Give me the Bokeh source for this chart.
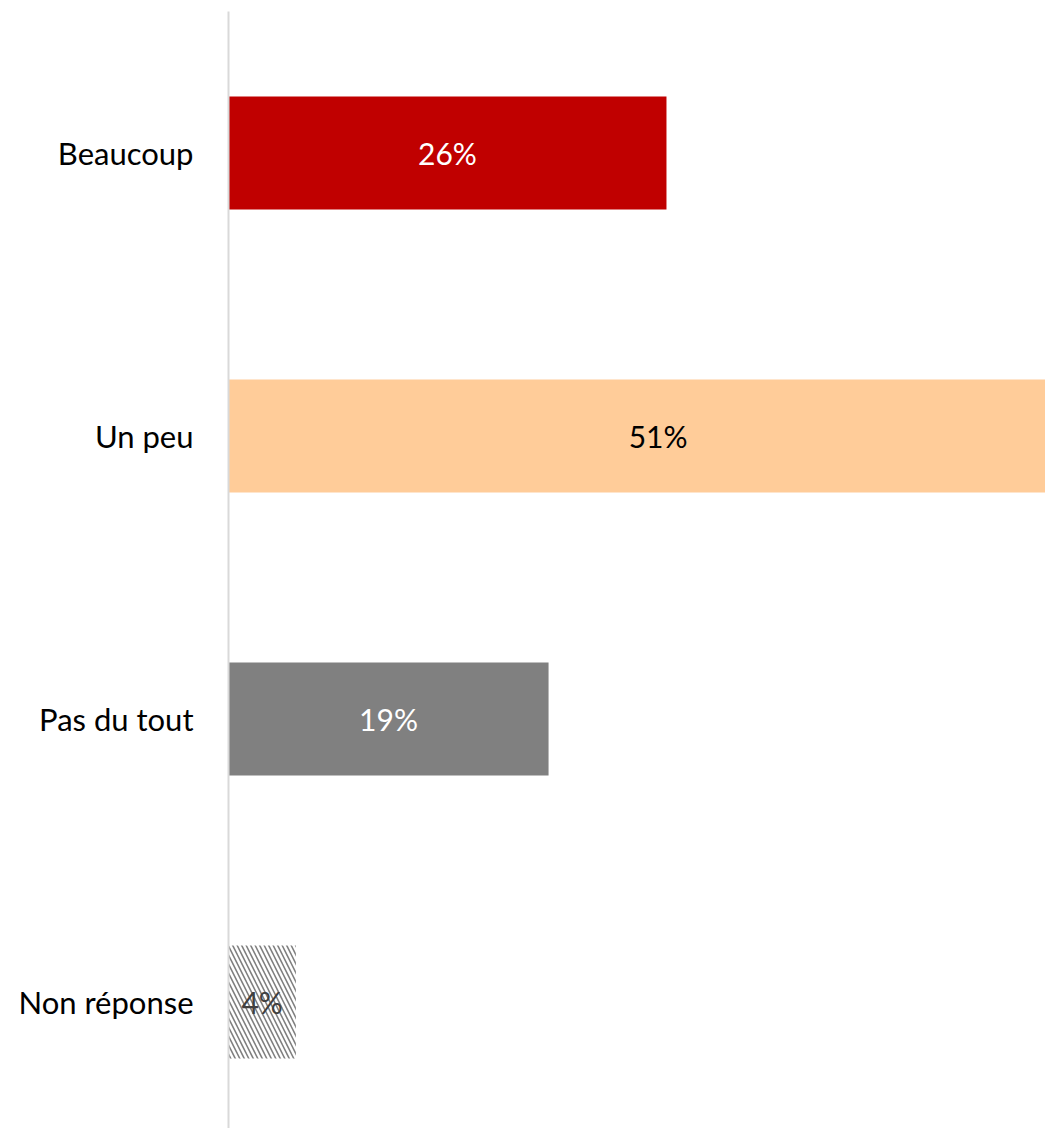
from bokeh.plotting import figure
from bokeh.models import ColumnDataSource, Range1d, FixedTicker
from bokeh.core.properties import value
from bokeh.embed import file_html
from bokeh.resources import INLINE

categories = ["Beaucoup", "Un peu", "Pas du tout", "Non réponse"]
values = [26, 51, 19, 4]
labels = ["26%", "51%", "19%", "4%"]
colors = ["#C00000", "#FFCC99", "#808080", "#FFFFFF"]
label_colors = ["#FFFFFF", "#000000", "#FFFFFF", "#404040"]

idx = list(range(len(categories)))
src = ColumnDataSource(dict(y=idx, v=values, xm=[v / 2 for v in values],
                            lab=labels, col=colors, lcol=label_colors))

p = figure(width=1045, height=1128, output_backend="svg", toolbar_location=None,
           x_range=Range1d(0, 48.5), y_range=Range1d(3.447, -0.5),
           min_border_left=228, min_border_right=0, min_border_top=11, min_border_bottom=0)
p.outline_line_color = None
p.xgrid.visible = False
p.ygrid.visible = False
p.xaxis.visible = False

main = [0, 1, 2]
p.hbar(y=[idx[i] for i in main], right=[values[i] for i in main], left=0, height=0.4,
       fill_color=[colors[i] for i in main], line_color=None)
nr = 3
p.hbar(y=[idx[nr]], right=[values[nr]], left=0, height=0.4, fill_color="#FFFFFF",
       line_color=None, hatch_pattern="\\", hatch_color="#808080", hatch_scale=9,
       hatch_weight=1.6)

p.text(x="xm", y="y", text="lab", text_color="lcol", source=src,
       text_align="center", text_baseline="middle", text_font=value("Lato"),
       text_font_size="30px")

p.yaxis.ticker = FixedTicker(ticks=idx)
p.yaxis.major_label_overrides = {i: c for i, c in zip(idx, categories)}
p.yaxis.major_label_text_font = "Lato"
p.yaxis.major_label_text_font_size = "31px"
p.yaxis.major_label_text_color = "#000000"
p.yaxis.major_tick_line_color = None
p.yaxis.minor_tick_line_color = None
p.yaxis.major_label_standoff = 29
p.yaxis.axis_line_color = "#D9D9D9"
p.yaxis.axis_line_width = 2

open("out.html", "w").write(file_html(p, INLINE))
